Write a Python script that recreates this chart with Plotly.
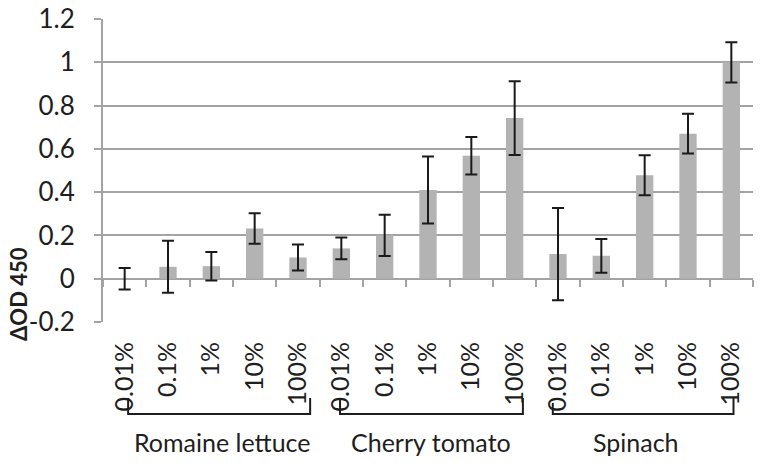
import plotly.graph_objects as go

groups = ["Romaine lettuce", "Cherry tomato", "Spinach"]
concentrations = ["0.01%", "0.1%", "1%", "10%", "100%"]
romaine = [0.0, 0.055, 0.058, 0.232, 0.098]
romaine_err = [0.05, 0.12, 0.066, 0.07, 0.06]
tomato = [0.14, 0.2, 0.41, 0.568, 0.742]
tomato_err = [0.05, 0.095, 0.155, 0.087, 0.17]
spinach = [0.114, 0.106, 0.478, 0.67, 1.0]
spinach_err = [0.213, 0.078, 0.092, 0.092, 0.093]
y_ticks = [-0.2, 0, 0.2, 0.4, 0.6, 0.8, 1, 1.2]

values = romaine + tomato + spinach
errors = romaine_err + tomato_err + spinach_err
labels = concentrations * len(groups)
xs = list(range(len(values)))

FONT = "Lato"
GRID = "#a3a3a3"
TXT = "#1e1e1e"

fig = go.Figure()
fig.add_trace(go.Bar(
    x=xs, y=values, width=0.4,
    marker=dict(color="#b3b3b3", line=dict(width=0)),
    error_y=dict(type="data", array=errors, visible=True,
                 color="#1a1a1a", thickness=2, width=6),
    showlegend=False,
))
# invisible trace on secondary x-axis for tick marks along y=0
fig.add_trace(go.Scatter(x=[-0.5], y=[0], xaxis="x2", mode="markers",
                         marker=dict(opacity=0), showlegend=False, hoverinfo="skip"))

n = len(values)
fig.update_layout(
    width=764, height=463,
    margin=dict(l=103, r=11, t=19, b=141),
    plot_bgcolor="white", paper_bgcolor="white",
    font=dict(family=FONT, color=TXT),
    bargap=0.6,
    xaxis=dict(
        range=[-0.5, n - 0.5], automargin=False,
        tickmode="array", tickvals=xs, ticktext=labels,
        tickangle=-90, tickfont=dict(size=25, family=FONT, color=TXT),
        ticks="outside", ticklen=9, tickcolor="rgba(0,0,0,0)",
        showgrid=False, zeroline=False, showline=False,
    ),
    xaxis2=dict(
        range=[-0.5, n - 0.5], overlaying="x", anchor="free", automargin=False,
        position=(0 - y_ticks[0]) / (y_ticks[-1] - y_ticks[0]),
        tickmode="array", tickvals=[i - 0.5 for i in range(n + 1)],
        ticks="outside", ticklen=7, tickwidth=2, tickcolor=GRID,
        showticklabels=False, showgrid=False, zeroline=False, showline=False,
    ),
    yaxis=dict(
        range=[y_ticks[0], y_ticks[-1]], automargin=False,
        tickmode="array", tickvals=y_ticks,
        ticktext=[("%g" % v) for v in y_ticks],
        tickfont=dict(size=26, family=FONT, color=TXT),
        ticks="outside", ticklen=7, tickwidth=2, tickcolor=GRID,
        ticklabelstandoff=14,
        showgrid=True, gridcolor=GRID, gridwidth=2,
        zeroline=True, zerolinecolor=GRID, zerolinewidth=2,
        showline=True, linecolor=GRID, linewidth=2,
    ),
)

# group brackets and labels
bracket_offsets = [(0.08, 0.28), (-0.03, 0.19), (-0.12, 0.05)]
bracket_tops = [(-0.251, -0.251), (-0.251, -0.251), (-0.267, -0.251)]
label_x = [2.25, 7.07, 11.8]
for g, name in enumerate(groups):
    x0 = g * 5 + bracket_offsets[g][0]
    x1 = g * 5 + 4 + bracket_offsets[g][1]
    yb = -0.304
    fig.add_shape(type="path", xref="x", yref="paper",
                  path=f"M {x0},{bracket_tops[g][0]} L {x0},{yb} L {x1},{yb} L {x1},{bracket_tops[g][1]}",
                  line=dict(color=TXT, width=2))
    fig.add_annotation(x=label_x[g], y=-0.396, xref="x", yref="paper",
                       text=name, showarrow=False, xanchor="center", yanchor="middle",
                       font=dict(size=25, family=FONT, color=TXT))

fig.add_annotation(x=-0.131, y=0.092, xref="paper", yref="paper",
                   text="<b>ΔOD 450</b>", textangle=-90, showarrow=False,
                   xanchor="center", yanchor="middle",
                   font=dict(size=22, family=FONT, color=TXT))

fig.write_html("out.html", config={"displayModeBar": False},
               post_script="document.body.style.margin='0';document.body.style.overflow='hidden';")
